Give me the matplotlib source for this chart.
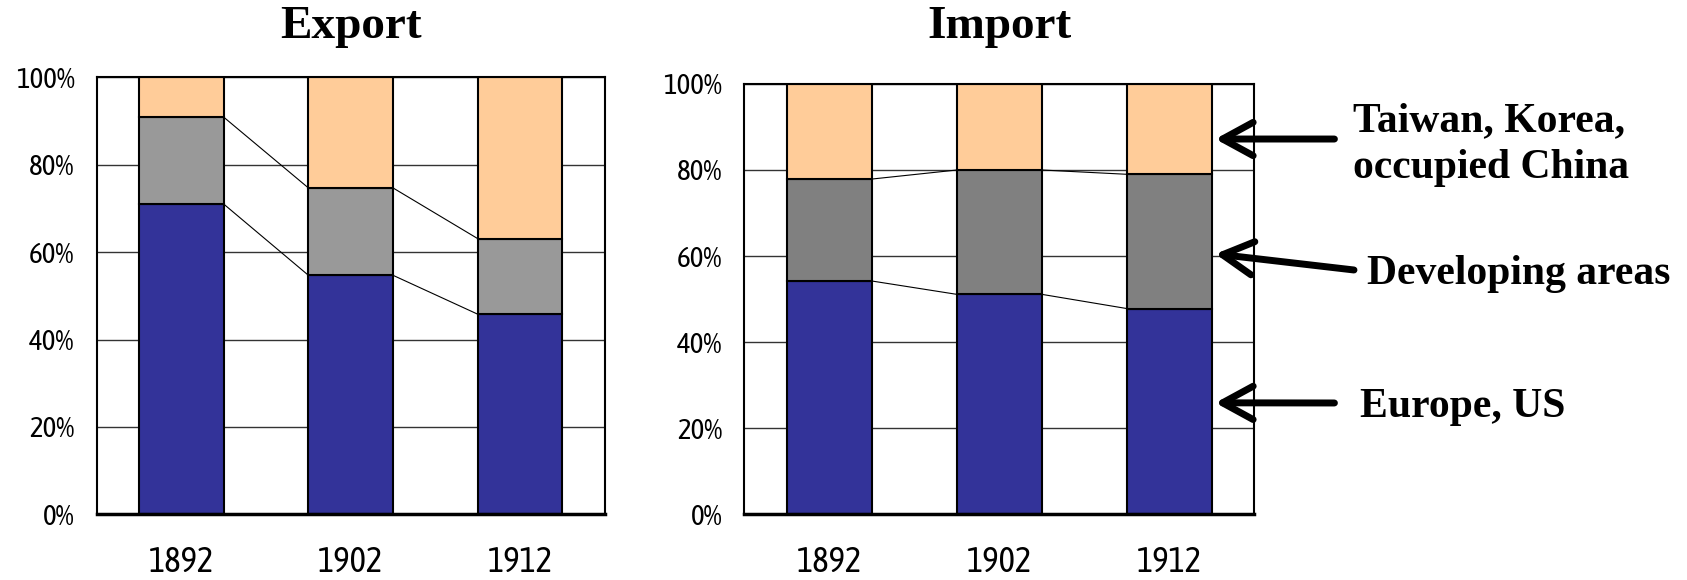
import numpy as np
import matplotlib.pyplot as plt

years = ['1892', '1902', '1912']
regions = ['Europe, US', 'Developing areas', 'Taiwan, Korea,\noccupied China']

# shares in percent, stacked from the bottom
export_europe = [71.0, 54.7, 45.8]
export_developing = [19.9, 20.0, 17.3]
export_asia = [9.1, 25.3, 36.9]

import_europe = [54.2, 51.1, 47.8]
import_developing = [23.7, 28.9, 31.2]
import_asia = [22.1, 20.0, 21.0]

ticks = [0, 20, 40, 60, 80, 100]
tick_labels = ['0%', '20%', '40%', '60%', '80%', '100%']

blue = '#333399'
peach = '#FFCC99'
narrow = ['Asap Condensed', 'Barlow Condensed', 'DejaVu Sans']
serif = ['Liberation Serif', 'DejaVu Serif']


def stacked(ax, europe, developing, asia, grey, title):
    x = np.arange(len(years))
    w = 0.5
    europe = np.array(europe)
    developing = np.array(developing)
    asia = np.array(asia)

    ax.set_axisbelow(True)
    ax.yaxis.grid(True, color='#333333', linewidth=1.0)
    ax.bar(x, europe, w, color=blue, edgecolor='black', linewidth=1.5, zorder=2)
    ax.bar(x, developing, w, bottom=europe, color=grey, edgecolor='black',
           linewidth=1.5, zorder=2)
    ax.bar(x, asia, w, bottom=europe + developing, color=peach,
           edgecolor='black', linewidth=1.5, zorder=2)

    # series lines between neighbouring bars
    for level in (europe, europe + developing):
        for i in range(len(x) - 1):
            ax.plot([x[i] + w / 2, x[i + 1] - w / 2], [level[i], level[i + 1]],
                    color='black', linewidth=0.8, zorder=3)

    ax.set_xlim(-0.5, len(x) - 0.5)
    ax.set_ylim(0, 100)
    ax.set_xticks(x)
    ax.set_xticklabels(years, family=narrow, fontsize=25)
    ax.set_yticks(ticks)
    ax.set_yticklabels(tick_labels, family=narrow, fontsize=21)
    ax.tick_params(axis='x', length=0, pad=22)
    ax.tick_params(axis='y', length=0, pad=16)
    for s in ax.spines.values():
        s.set_linewidth(1.5)
    ax.spines['bottom'].set_linewidth(2.5)

    bb = ax.get_position()
    ax.figure.text((bb.x0 + bb.x1) / 2, 0.953, title, ha='center', va='center',
                   family=serif, fontweight='bold', fontsize=34)


fig = plt.figure(figsize=(16.87, 5.8), dpi=100)
ax1 = fig.add_axes([0.0574, 0.1133, 0.3011, 0.7531])
ax2 = fig.add_axes([0.4413, 0.1133, 0.3023, 0.7420])

stacked(ax1, export_europe, export_developing, export_asia, '#999999', 'Export')
stacked(ax2, import_europe, import_developing, import_asia, '#808080', 'Import')

# labels for the three regions, with arrows into the import bars
arrow_tips = [(2.27, 25.9), (2.27, 60.5), (2.27, 87.2)]
arrow_tails = [(0.7910, 0.3052), (0.8026, 0.5345), (0.7910, 0.7603)]
label_pos = [(0.806, 0.298), (0.8103, 0.527), (0.802, 0.750)]

for name, tip, tail, pos in zip(regions, arrow_tips, arrow_tails, label_pos):
    ax2.annotate('', xy=tip, xycoords='data', xytext=tail,
                 textcoords='figure fraction', annotation_clip=False,
                 arrowprops=dict(arrowstyle='->,head_length=2.2,head_width=1.2',
                                 mutation_scale=10, linewidth=5,
                                 color='black', shrinkA=0, shrinkB=0))
    fig.text(pos[0], pos[1], name, ha='left', va='center', family=serif,
             fontweight='bold', fontsize=30, linespacing=1.3)

plt.savefig('out.png', dpi=100)
